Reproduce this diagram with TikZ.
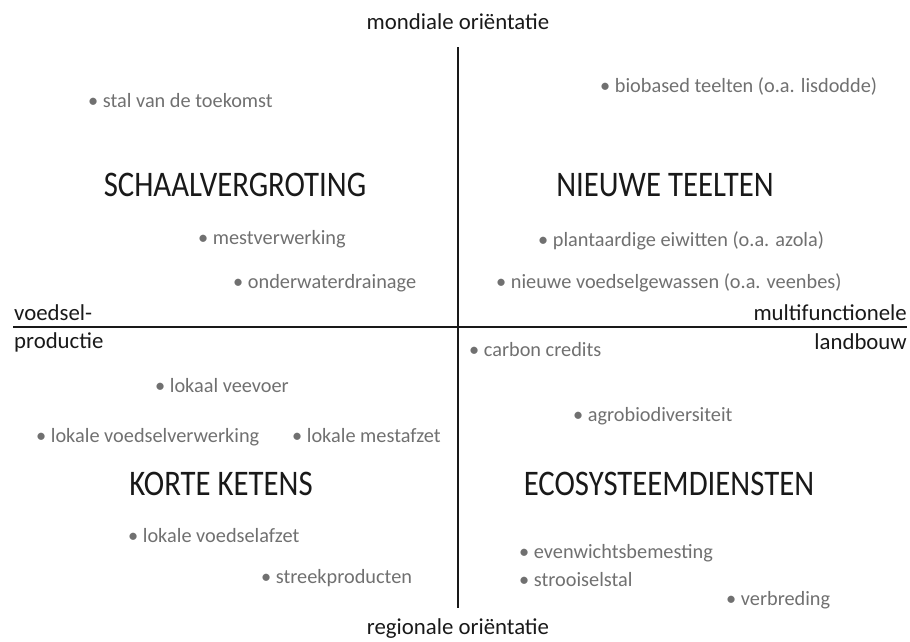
\documentclass[tikz,border=0pt]{standalone}
\usepackage{fontspec}
\setmainfont{Carlito}
\usetikzlibrary{positioning}
\definecolor{itemgray}{RGB}{112,112,112}
\definecolor{titleblack}{RGB}{25,25,25}

\begin{document}
\begin{tikzpicture}[x=1pt,y=-1pt,
	item/.style={anchor=west,inner sep=0pt,text=itemgray,font=\fontsize{20.3}{24}\selectfont},
	title/.style={inner sep=0pt,text=titleblack,xscale=0.855,transform shape,font=\fontsize{36}{40}\selectfont},
	axislabel/.style={inner sep=0pt,text=titleblack,font=\fontsize{22.8}{27}\selectfont},
	axis/.style={line width=1.9pt,titleblack}]
	\useasboundingbox (0,0) rectangle (910,641);
	% Assen
		\coordinate (top) at (458,47);
		\coordinate (bottom) at (458,608);
		\coordinate (left) at (13,327);
		\coordinate (right) at (907,327);
		\draw[axis] (top) -- (bottom);
		\draw[axis] (left) -- (right);
	% Aslabels
		\node (mondiaal) at (458,22) [axislabel] {mondiale oriëntatie};
		\node (regionaal) at (458,629) [axislabel] {regionale oriëntatie};
		\node (voedsel) at (14,313) [axislabel,anchor=west] {voedsel-};
		\node (productie) at (14,342) [axislabel,anchor=west] {productie};
		\node (multi) at (907,313) [axislabel,anchor=east] {multifunctionele};
		\node (landbouw) at (907,342) [axislabel,anchor=east] {landbouw};
	% Kwadranten
		\node (schaal) at (235,185) [title] {SCHAALVERGROTING};
		\node (teelten) at (665,185) [title] {NIEUWE TEELTEN};
		\node (ketens) at (221,484) [title] {KORTE KETENS};
		\node (eco) at (669,484) [title] {ECOSYSTEEMDIENSTEN};
	% Linksboven
		\node (stal) at (88,101) [item] {• stal van de toekomst};
		\node (mest) at (198,239) [item] {• mestverwerking};
		\node (drainage) at (233,283) [item] {• onderwaterdrainage};
	% Rechtsboven
		\node (biobased) at (600,86) [item] {• biobased teelten (o.a. lisdodde)};
		\node (eiwitten) at (538,241) [item] {• plantaardige eiwitten (o.a. azola)};
		\node (gewassen) at (496,283) [item] {• nieuwe voedselgewassen (o.a. veenbes)};
	% Linksonder
		\node (veevoer) at (155,386) [item] {• lokaal veevoer};
		\node (verwerking) at (36,437) [item] {• lokale voedselverwerking};
		\node (mestafzet) at (292,436) [item] {• lokale mestafzet};
		\node (afzet) at (128,536) [item] {• lokale voedselafzet};
		\node (streek) at (261,578) [item] {• streekproducten};
	% Rechtsonder
		\node (carbon) at (469,350) [item] {• carbon credits};
		\node (agro) at (573,416) [item] {• agrobiodiversiteit};
		\node (bemesting) at (519,553) [item] {• evenwichtsbemesting};
		\node (strooisel) at (519,580) [item] {• strooiselstal};
		\node (verbreding) at (726,600) [item] {• verbreding};
\end{tikzpicture}
\end{document}
